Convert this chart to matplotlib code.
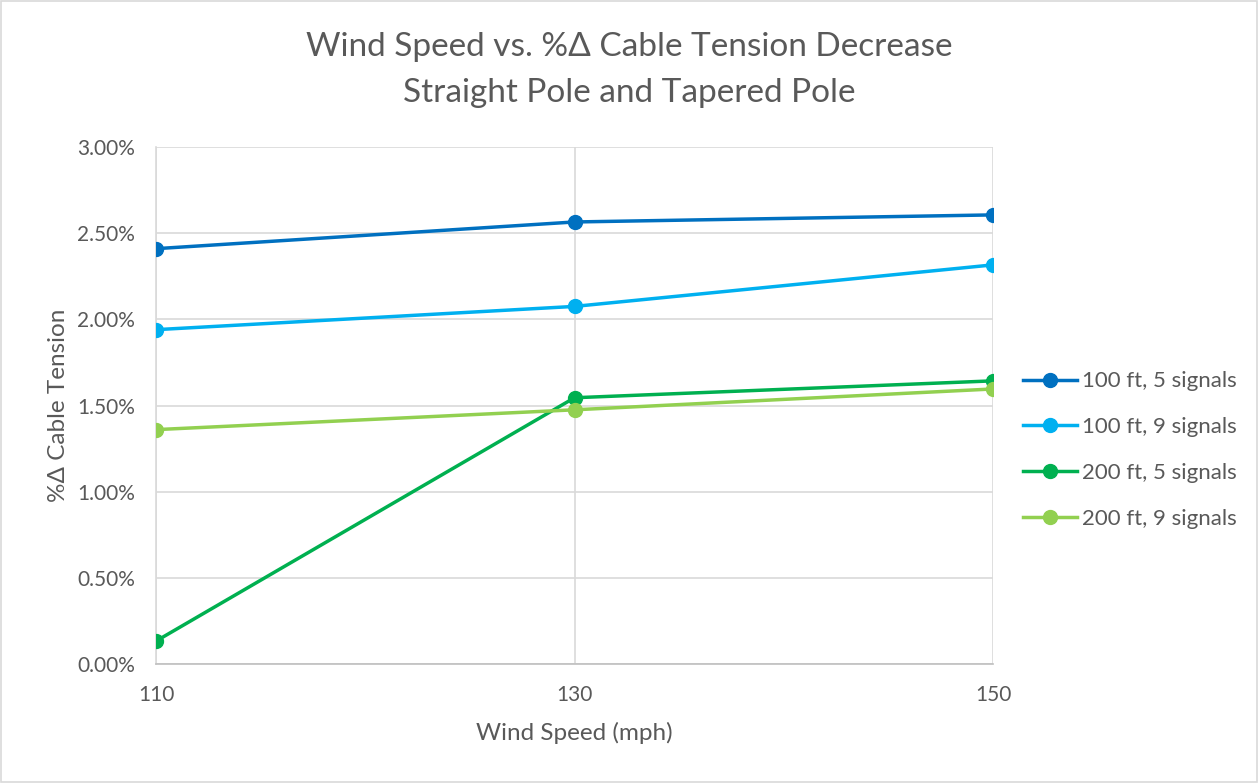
import matplotlib.pyplot as plt
from matplotlib.ticker import FuncFormatter

wind_speed = [110, 130, 150]
ft100_5 = [2.41, 2.565, 2.606]
ft100_9 = [1.94, 2.075, 2.316]
ft200_5 = [0.133, 1.545, 1.643]
ft200_9 = [1.36, 1.475, 1.596]

labels = ['100 ft, 5 signals', '100 ft, 9 signals', '200 ft, 5 signals', '200 ft, 9 signals']
colors = ['#0070C0', '#00B0F0', '#00B050', '#92D050']

plt.rcParams['font.family'] = ['Lato', 'DejaVu Sans']
txt = '#595959'

fig = plt.figure(figsize=(12.58, 7.83), dpi=100)
ax = fig.add_axes([156 / 1258, 1 - 664 / 783, (993 - 156) / 1258, (664 - 147) / 783])

for ys, lab, c in zip([ft100_5, ft100_9, ft200_5, ft200_9], labels, colors):
    ax.plot(wind_speed, ys, color=c, lw=2.5, marker='o', ms=10, label=lab, zorder=3)

ax.set_xlim(110, 150)
ax.set_ylim(0, 3.0)
ax.set_xticks(wind_speed)
ax.set_yticks([0, 0.5, 1.0, 1.5, 2.0, 2.5, 3.0])
ax.yaxis.set_major_formatter(FuncFormatter(lambda v, p: '%.2f%%' % v))
ax.grid(True, color='#D9D9D9', lw=1.2)
ax.set_axisbelow(True)
for s in ['top', 'right']:
    ax.spines[s].set_visible(False)
ax.spines['left'].set_color('#D9D9D9')
ax.spines['bottom'].set_color('#BFBFBF')
ax.spines['left'].set_linewidth(1.2)
ax.spines['bottom'].set_linewidth(1.2)
ax.tick_params(length=0, labelsize=15, colors=txt, pad=15)
ax.tick_params(axis='x', pad=15)

ax.set_xlabel('Wind Speed (mph)', fontsize=17.5, color=txt, labelpad=12)
ax.set_ylabel('%Δ Cable Tension', fontsize=17.5, color=txt, labelpad=6)

fig.text(0.5, 1 - 47 / 783, 'Wind Speed vs. %Δ Cable Tension Decrease', ha='center', va='center',
         fontsize=24, color=txt)
fig.text(0.5, 1 - 93 / 783, 'Straight Pole and Tapered Pole', ha='center', va='center',
         fontsize=24, color=txt)

leg = ax.legend(loc='center left', bbox_to_anchor=(1023 / 1258, 1 - 450 / 783),
                bbox_transform=fig.transFigure, frameon=False, fontsize=16,
                labelspacing=1.16, handlelength=2.45, handletextpad=0.22,
                borderpad=0, borderaxespad=0)
for t in leg.get_texts():
    t.set_color(txt)

fig.patches.append(plt.Rectangle((0.001, 0.001), 0.998, 0.998, transform=fig.transFigure,
                                 fill=False, edgecolor='#D9D9D9', lw=1.2))

fig.savefig('out.png', dpi=100)
